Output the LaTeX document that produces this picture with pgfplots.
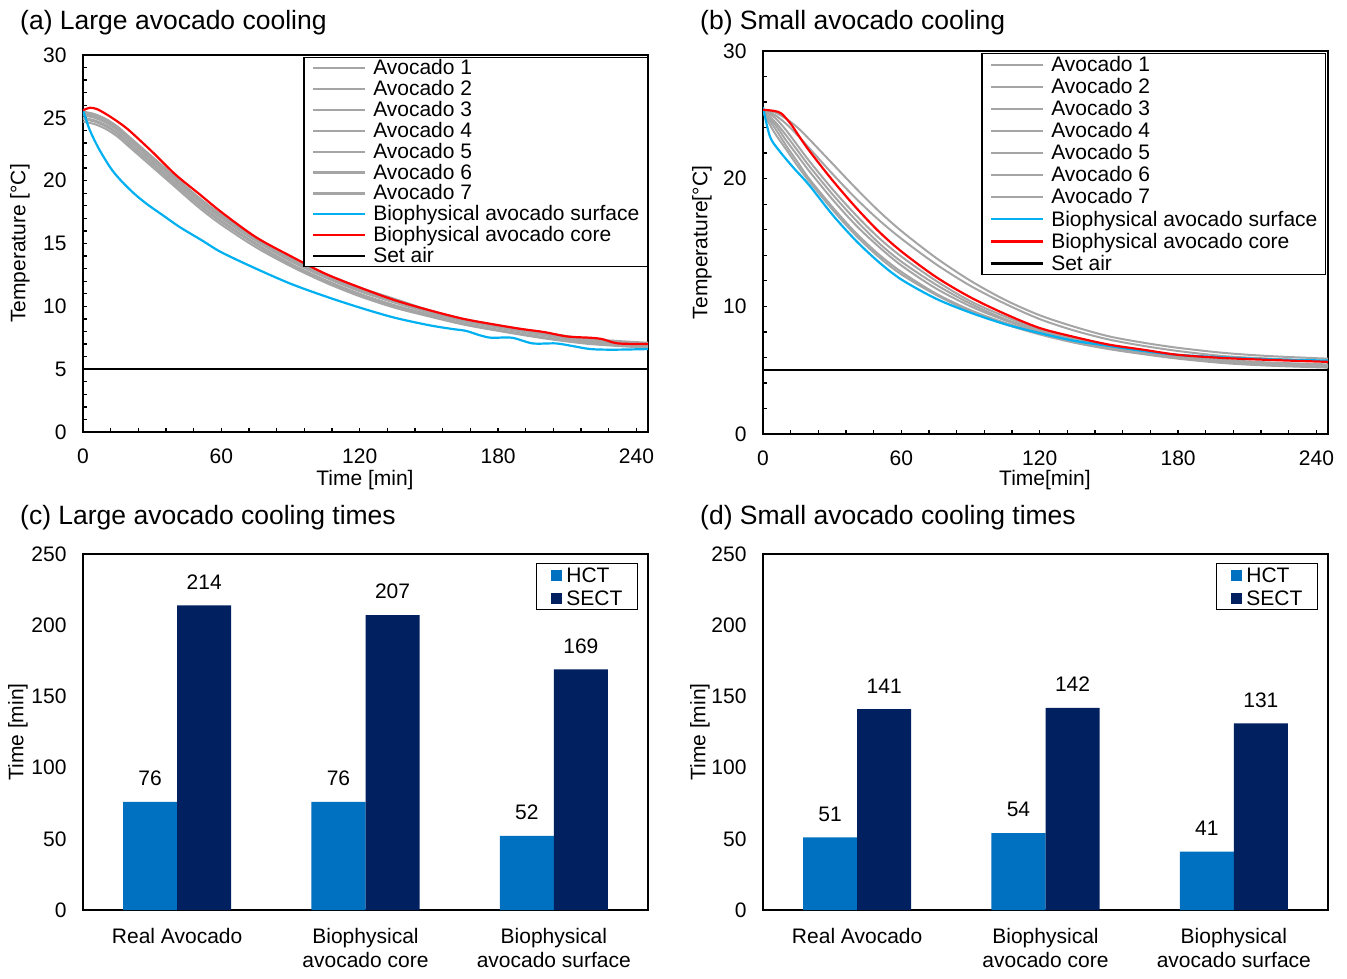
\documentclass[border=0pt]{standalone}
\usepackage{pgfplots}
\pgfplotsset{compat=1.18}
\usepackage{fontspec}
\setmainfont{Liberation Sans}
\definecolor{avg}{HTML}{A5A5A5}
\definecolor{bsurf}{HTML}{00B0F0}
\definecolor{rcore}{HTML}{FF0000}
\definecolor{hct}{HTML}{0070C0}
\definecolor{sect}{HTML}{002060}
\newcommand{\fs}{\fontsize{21}{24}\selectfont}
\newcommand{\ft}{\fontsize{26.5}{30}\selectfont}
\pgfplotsset{
  common/.style={scale only axis, width=565pt,
    axis line style={line width=1.5pt}, tick style={line width=1.3pt, black},
    ticklabel style={font=\fs}, /pgf/number format/assume math mode=true,
    label style={font=\fs}, legend cell align=left},
  lineax/.style={common, xmin=0, xmax=245, ymin=0, ymax=30,
    xtick={0,60,120,180,240}, minor x tick num=4, minor y tick num=4,
    major tick length=4pt, minor tick length=4pt,
    xtick pos=bottom, ytick pos=left, tick align=inside,
    yticklabel style={xshift=-13pt}, xticklabel style={yshift=-13pt},
    legend image code/.code={\draw[##1, line width=2.2pt] (0pt,0pt) -- (52pt,0pt);}},
  gr/.style={avg, line width=2pt, smooth},
  barax/.style={common, ybar, bar width=0.287, xmin=-0.5, xmax=2.5, ymin=0, ymax=250,
    height=356pt, ytick={0,50,...,250}, xtick={0,1,2},
    xticklabels={Real Avocado,{Biophysical\\avocado core},{Biophysical\\avocado surface}},
    xticklabel style={align=center, font=\fs, yshift=-15pt},
    yticklabel style={xshift=-13pt},
    major tick length=0pt, xtick style={draw=none}, ytick style={draw=none},
    nodes near coords, nodes near coords style={font=\fs, yshift=12.5pt, black},
    legend style={anchor=north east, draw=black, line width=1.2pt, inner xsep=15pt, inner ysep=0pt,
      font=\fs, nodes={inner sep=0pt, text height=19pt, text depth=4pt}, column sep=4pt},
    ylabel={Time [min]}},
  barleg/.style={legend image code/.code={\fill[##1,draw=none] (0pt,-5.5pt) rectangle (11pt,5.5pt);}}
}
\begin{document}
\begin{tikzpicture}
\useasboundingbox (0,0) rectangle (1347pt,978pt);
\node[anchor=west, font=\ft, inner sep=0pt] at (20pt,955pt) {(a) Large avocado cooling};
\node[anchor=west, font=\ft, inner sep=0pt] at (700pt,955pt) {(b) Small avocado cooling};
\node[anchor=west, font=\ft, inner sep=0pt] at (20pt,460pt) {(c) Large avocado cooling times};
\node[anchor=west, font=\ft, inner sep=0pt] at (700pt,460pt) {(d) Small avocado cooling times};

% (a)
\begin{axis}[lineax, at={(83pt,546pt)}, anchor=south west, height=377pt,
  ytick={0,5,...,30},
  xlabel={Time [min]}, ylabel={Temperature [°C]},
  xlabel style={at={(axis description cs:0.499,-0.127)}, anchor=center},
  ylabel style={at={(axis description cs:-0.1115,0.5)}, anchor=center},
  legend style={at={(axis description cs:1,0.9947)}, anchor=north east, draw=black, line width=1.2pt,
    inner xsep=8pt, inner ysep=0pt, font=\fs,
    nodes={inner sep=0pt, text height=17pt, text depth=3.9pt}, column sep=7pt}]
\addplot[gr] coordinates {(0,25.5)(5,25.3)(10,24.9)(15,24.3)(20,23.5)(30,21.9)(40,20.3)(50,18.7)(60,17.3)(75,15.5)(90,13.9)(105,12.6)(120,11.5)(135,10.6)(150,9.7)(165,9.0)(180,8.5)(200,7.9)(220,7.4)(245,7.1)};
\addplot[gr] coordinates {(0,25.4)(5,25.2)(10,24.8)(15,24.2)(20,23.4)(30,21.8)(40,20.2)(50,18.6)(60,17.2)(75,15.4)(90,13.8)(105,12.5)(120,11.4)(135,10.5)(150,9.6)(165,8.9)(180,8.4)(200,7.8)(220,7.3)(245,7.0)};
\addplot[gr] coordinates {(0,25.3)(5,25.1)(10,24.7)(15,24.1)(20,23.3)(30,21.7)(40,20.1)(50,18.5)(60,17.1)(75,15.3)(90,13.7)(105,12.4)(120,11.3)(135,10.4)(150,9.55)(165,8.85)(180,8.35)(200,7.75)(220,7.25)(245,6.95)};
\addplot[gr] coordinates {(0,25.2)(5,25.0)(10,24.6)(15,24.0)(20,23.2)(30,21.6)(40,20.0)(50,18.4)(60,17.0)(75,15.2)(90,13.6)(105,12.3)(120,11.2)(135,10.3)(150,9.5)(165,8.8)(180,8.3)(200,7.7)(220,7.2)(245,6.9)};
\addplot[gr] coordinates {(0,25.0)(5,24.8)(10,24.4)(15,23.8)(20,23.0)(30,21.4)(40,19.8)(50,18.2)(60,16.8)(75,15.0)(90,13.4)(105,12.1)(120,11.0)(135,10.1)(150,9.35)(165,8.65)(180,8.15)(200,7.55)(220,7.1)(245,6.8)};
\addplot[gr] coordinates {(0,24.9)(5,24.7)(10,24.3)(15,23.7)(20,22.9)(30,21.3)(40,19.7)(50,18.1)(60,16.7)(75,14.9)(90,13.3)(105,12.0)(120,10.9)(135,10.0)(150,9.25)(165,8.6)(180,8.1)(200,7.5)(220,7.05)(245,6.75)};
\addplot[gr] coordinates {(0,24.7)(5,24.5)(10,24.1)(15,23.5)(20,22.7)(30,21.1)(40,19.5)(50,17.9)(60,16.5)(75,14.7)(90,13.2)(105,11.9)(120,10.8)(135,9.9)(150,9.2)(165,8.55)(180,8.05)(200,7.45)(220,7.0)(245,6.7)};
\addplot[bsurf, line width=2.2pt, smooth] coordinates {(0,25.6)(3,24.0)(7,22.5)(12,21.0)(16,20.1)(22,19.0)(28,18.1)(35,17.2)(42,16.3)(52,15.2)(60,14.3)(75,13.0)(90,11.8)(105,10.8)(120,9.9)(135,9.1)(150,8.5)(160,8.2)(166,8.05)(172,7.7)(177,7.5)(186,7.5)(195,7.05)(205,7.05)(212,6.85)(220,6.6)(230,6.55)(245,6.6)};
\addplot[rcore, line width=2.2pt, smooth] coordinates {(0,25.6)(3,25.8)(6,25.7)(10,25.3)(15,24.7)(20,24.0)(30,22.3)(40,20.5)(50,19.0)(60,17.5)(75,15.5)(90,14.0)(105,12.6)(120,11.5)(135,10.5)(150,9.7)(165,9.0)(180,8.5)(190,8.2)(200,7.95)(210,7.6)(220,7.5)(225,7.4)(232,7.05)(245,7.0)};
\addplot[black, line width=2pt] coordinates {(0,5)(245,5)};
\legend{Avocado 1,Avocado 2,Avocado 3,Avocado 4,Avocado 5,Avocado 6,Avocado 7,Biophysical avocado surface,Biophysical avocado core,Set air}
\end{axis}

% (b)
\begin{axis}[lineax, at={(763pt,544pt)}, anchor=south west, height=383pt,
  ytick={0,10,20,30},
  xlabel={Time[min]}, ylabel={Temperature[°C]},
  xlabel style={at={(axis description cs:0.499,-0.12)}, anchor=center},
  ylabel style={at={(axis description cs:-0.108,0.5)}, anchor=center},
  legend style={at={(axis description cs:0.9965,0.9948)}, anchor=north east, draw=black, line width=1.2pt,
    inner xsep=8pt, inner ysep=0pt, font=\fs,
    nodes={inner sep=0pt, text height=17.8pt, text depth=4.3pt}, column sep=7pt}]
\addplot[gr] coordinates {(0,25.3)(5,25.2)(10,24.7)(15,24.0)(20,23.1)(30,21.2)(40,19.3)(50,17.5)(60,15.9)(75,13.8)(90,12.0)(105,10.5)(120,9.3)(135,8.4)(150,7.65)(165,7.15)(180,6.75)(200,6.35)(220,6.1)(245,5.9)};
\addplot[gr] coordinates {(0,25.3)(5,25.0)(10,24.3)(15,23.4)(20,22.4)(30,20.4)(40,18.5)(50,16.8)(60,15.3)(75,13.3)(90,11.6)(105,10.2)(120,9.0)(135,8.1)(150,7.4)(165,6.9)(180,6.5)(200,6.1)(220,5.9)(245,5.7)};
\addplot[gr] coordinates {(0,25.3)(5,24.8)(10,23.8)(15,22.6)(20,21.4)(30,19.2)(40,17.2)(50,15.4)(60,13.9)(75,12.0)(90,10.4)(105,9.2)(120,8.2)(135,7.5)(150,6.9)(165,6.4)(180,6.05)(200,5.75)(220,5.55)(245,5.4)};
\addplot[gr] coordinates {(0,25.2)(5,24.3)(10,23.0)(15,21.8)(20,20.6)(30,18.4)(40,16.4)(50,14.7)(60,13.2)(75,11.4)(90,10.0)(105,8.9)(120,8.0)(135,7.3)(150,6.7)(165,6.3)(180,6.0)(200,5.7)(220,5.45)(245,5.3)};
\addplot[gr] coordinates {(0,25.3)(5,24.0)(10,22.6)(15,21.3)(20,20.0)(30,17.8)(40,15.8)(50,14.1)(60,12.7)(75,11.0)(90,9.7)(105,8.7)(120,7.9)(135,7.2)(150,6.7)(165,6.3)(180,5.95)(200,5.6)(220,5.4)(245,5.25)};
\addplot[gr] coordinates {(0,25.3)(5,24.5)(10,23.4)(15,22.2)(20,21.0)(30,18.8)(40,16.8)(50,15.0)(60,13.5)(75,11.7)(90,10.2)(105,9.0)(120,8.1)(135,7.4)(150,6.85)(165,6.4)(180,6.1)(200,5.8)(220,5.6)(245,5.45)};
\addplot[gr] coordinates {(0,25.2)(5,23.6)(10,22.3)(15,21.0)(20,19.8)(30,17.6)(40,15.6)(50,13.9)(60,12.5)(75,10.9)(90,9.6)(105,8.6)(120,7.8)(135,7.15)(150,6.65)(165,6.25)(180,5.9)(200,5.55)(220,5.35)(245,5.2)};
\addplot[bsurf, line width=2.2pt, smooth] coordinates {(0,25.6)(3,23.3)(7,22.2)(13,20.9)(20,19.5)(30,17.2)(40,15.2)(50,13.5)(60,12.1)(75,10.6)(90,9.5)(105,8.6)(120,7.9)(135,7.3)(150,6.9)(165,6.5)(180,6.2)(200,6.0)(220,5.85)(245,5.75)};
\addplot[rcore, line width=2.2pt, smooth] coordinates {(0,25.4)(5,25.3)(8,25.1)(12,24.3)(15,23.5)(20,22.2)(30,19.9)(40,17.8)(50,15.9)(60,14.3)(75,12.3)(90,10.7)(105,9.4)(120,8.3)(135,7.6)(150,7.0)(165,6.6)(180,6.2)(200,5.95)(220,5.8)(245,5.65)};
\addplot[black, line width=2pt] coordinates {(0,5)(245,5)};
\legend{Avocado 1,Avocado 2,Avocado 3,Avocado 4,Avocado 5,Avocado 6,Avocado 7,Biophysical avocado surface,Biophysical avocado core,Set air}
\end{axis}

% (c)
\begin{axis}[barax, at={(83pt,68pt)}, anchor=south west,
  ylabel style={at={(axis description cs:-0.115,0.5)}, anchor=center},
  legend style={at={(axis description cs:0.9823,0.9747)}}]
\addplot[fill=hct, draw=none, bar shift=-0.1435, barleg] coordinates {(0,76)(1,76)(2,52)};
\addplot[fill=sect, draw=none, bar shift=0.1435, barleg] coordinates {(0,214)(1,207)(2,169)};
\legend{HCT,SECT}
\end{axis}

% (d)
\begin{axis}[barax, at={(763pt,68pt)}, anchor=south west,
  ylabel style={at={(axis description cs:-0.1115,0.5)}, anchor=center},
  legend style={at={(axis description cs:0.9823,0.9747)}}]
\addplot[fill=hct, draw=none, bar shift=-0.1435, barleg] coordinates {(0,51)(1,54)(2,41)};
\addplot[fill=sect, draw=none, bar shift=0.1435, barleg] coordinates {(0,141)(1,142)(2,131)};
\legend{HCT,SECT}
\end{axis}
\end{tikzpicture}
\end{document}
